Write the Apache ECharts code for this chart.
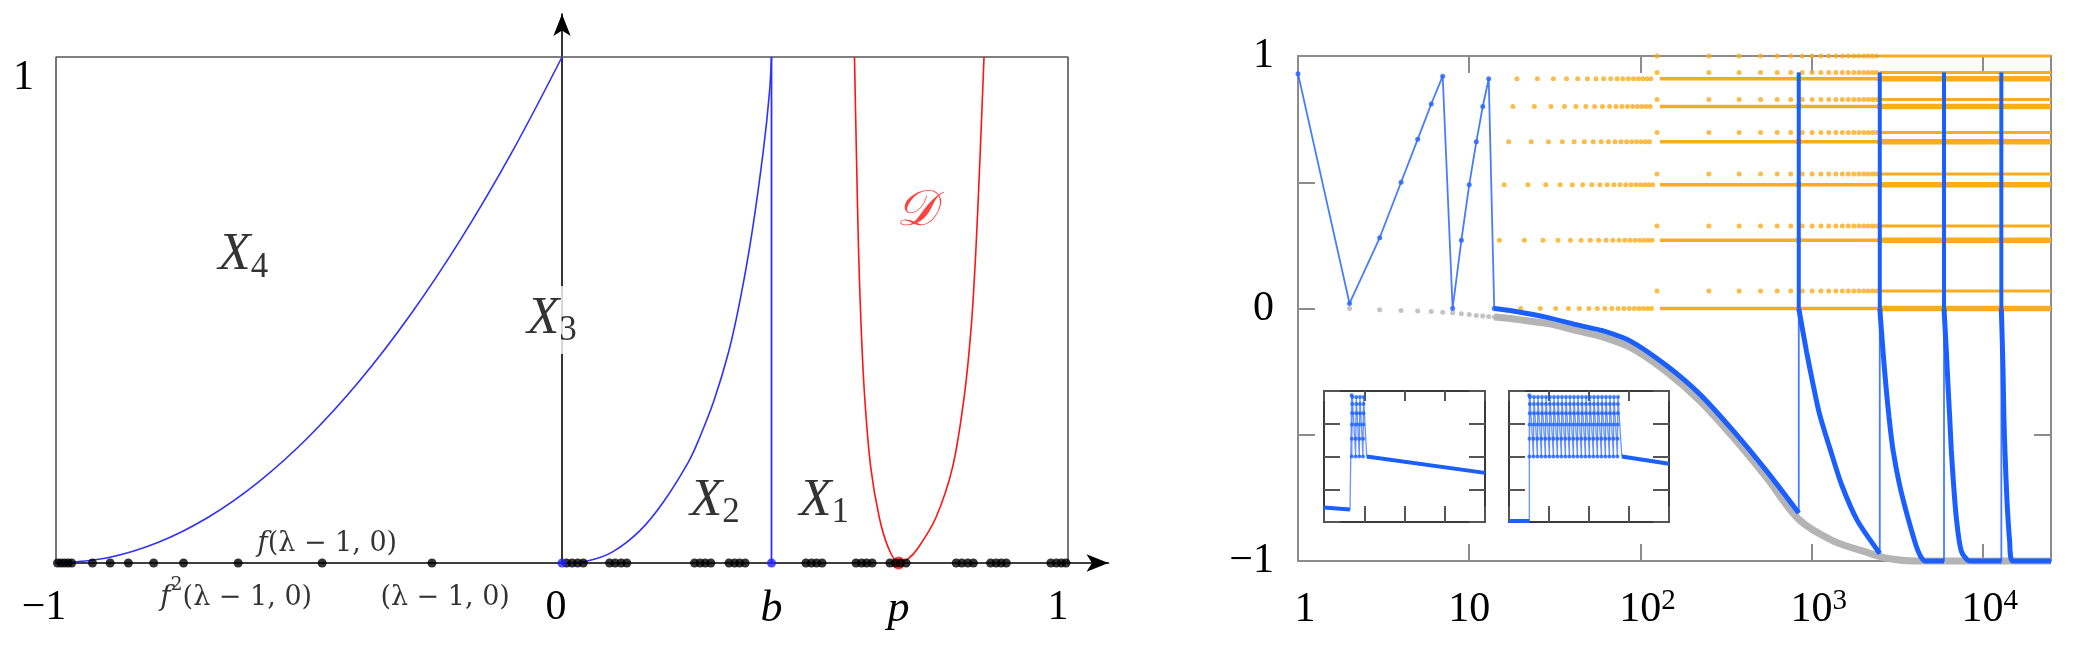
<!DOCTYPE html>
<html>
<head>
<meta charset="utf-8">
<script src="https://cdn.jsdelivr.net/npm/echarts@6.0.0/dist/echarts.min.js"></script>
<style>html,body{margin:0;padding:0;background:#fff;}#chart{width:2078px;height:653px;}</style>
</head>
<body>
<div id="chart"></div>
<script>
// ================= LEFT PANEL DATA =================
const leftXTickValues = [-1, 0, 0.414, 0.665, 1];
const leftXTickLabels = ['−1', '0', 'b', 'p', '1'];
const leftYTickValues = [1];
const leftYTickLabels = ['1'];
const boxLeft = [[-1, 0], [-1, 1], [1, 1], [1, 0]];
const curveX4 = [[-1,0],[-0.9,0.01],[-0.8,0.04],[-0.7,0.09],[-0.6,0.16],[-0.5,0.25],[-0.4,0.36],[-0.3,0.49],[-0.2,0.64],[-0.1,0.81],[0,1]];
const curveX2 = [[0,0],[0.05,0.004],[0.1,0.022],[0.155,0.065],[0.2,0.12],[0.25,0.2],[0.27,0.243],[0.3,0.32],[0.33,0.42],[0.352,0.52],[0.375,0.65],[0.398,0.816],[0.41,0.93],[0.414,1]];
const lineB = [[0.414,0],[0.414,1]];
const curveD = [[0.578,1],[0.582,0.8],[0.586,0.62],[0.591,0.47],[0.598,0.33],[0.61,0.19],[0.627,0.09],[0.645,0.03],[0.665,0],[0.684,0.008],[0.704,0.03],[0.739,0.09],[0.772,0.19],[0.795,0.33],[0.809,0.47],[0.818,0.62],[0.826,0.8],[0.834,1]];
const orbitBlack = [-0.997,-0.990,-0.983,-0.976,-0.969,-0.928,-0.893,-0.857,-0.807,-0.748,-0.640,-0.474,-0.257,
  0.009,0.020,0.031,0.042, 0.094,0.105,0.117,0.128, 0.262,0.273,0.283,0.294, 0.330,0.341,0.351,0.362,
  0.482,0.493,0.503,0.514, 0.581,0.592,0.602,0.613, 0.648,0.659,0.669,0.680, 0.779,0.790,0.802,0.813,
  0.847,0.858,0.868,0.878, 0.966,0.977,0.987,0.996];
const orbitBlue = [0, 0.414];
const orbitRed = [0.665];
const regionSubs = ['4', '3', '2', '1'];
const regionPos = [[-0.63,0.605],[-0.02,0.48],[0.302,0.12],[0.518,0.12]];
const setDName = '𝒟';
const setDPos = [0.70, 0.694];
const orbitTexts = ['{i|f}{r|(λ − 1, 0)}', '{i|f}{sup|2}{r|(λ − 1, 0)}', '{r|(λ − 1, 0)}'];
const orbitTextPos = [[-0.464,0.046],[-0.644,-0.06],[-0.231,-0.06]];

// ================= RIGHT PANEL DATA =================
const rightYTickValues = [-1, 0, 1];
const rightYTickLabels = ['−1', '0', '1'];
const blueSaw = [[1,0.93],[2,0.02],[3,0.28],[4,0.50],[5,0.67],[6,0.81],[7,0.92],[8,0.0],[9,0.27],[10,0.49],[11,0.66],[12,0.80],[13,0.91],[14,0.0]];
const blueCurve1 = [[14,0],[18,-0.01],[28,-0.034],[44,-0.067],[60,-0.088],[88,-0.13],[142,-0.226],[222,-0.339],[348,-0.484],[545,-0.643],[841,-0.81]];
const blueCurve2 = [[841,0],[933,-0.17],[1019,-0.30],[1114,-0.42],[1300,-0.57],[1500,-0.70],[1850,-0.84],[2500,-0.97]];
const blueCurve3 = [[2500,0],[2612,-0.17],[2710,-0.30],[2830,-0.43],[2986,-0.56],[3266,-0.70],[3655,-0.83],[4180,-0.96],[4600,-1.0],[5930,-1.0]];
const blueCurve4 = [[5930,0],[6120,-0.17],[6253,-0.30],[6400,-0.43],[6540,-0.56],[6750,-0.70],[7000,-0.83],[7480,-0.96],[8380,-1.0],[12820,-1.0]];
const blueCurve5 = [[12820,0],[13100,-0.23],[13270,-0.43],[13450,-0.56],[13830,-0.76],[14330,-0.92],[14930,-1.0],[25000,-1.0]];
const blueCurves = [blueCurve1, blueCurve2, blueCurve3, blueCurve4, blueCurve5];
const jumpX = [841, 2500, 5930, 12820];
const barTop = 0.935;
const sawLevels = [0.27, 0.49, 0.66, 0.80, 0.91];
const greyDots = [[2,0],[3,-0.005],[4,-0.008],[5,-0.01],[6,-0.012],[7,-0.015],[8,-0.017],[9,-0.021],[10,-0.024],[11,-0.028],[12,-0.03],[13,-0.032],[14,-0.034]];
const greyCurve = [[14,-0.034],[20,-0.045],[30,-0.062],[44,-0.09],[60,-0.112],[88,-0.155],[142,-0.25],[222,-0.365],[348,-0.51],[545,-0.67],[841,-0.835],[1334,-0.92],[2090,-0.965],[2800,-0.99],[4000,-1.0],[25000,-1.0]];
const orangeLowLevels = [0.27, 0.49, 0.66, 0.80, 0.91, 0.0];
const orangeSparseX = [
  [15,21,27,33,39,45,51,57,63,69,75,81,87,93,99,105,111,117],
  [16,22,28,34,40,46,52,58,64,70,76,82,88,94,100,106,112,118],
  [17,23,29,35,41,47,53,59,65,71,77,83,89,95,101,107,113],
  [18,24,30,36,42,48,54,60,66,72,78,84,90,96,102,108,114],
  [19,25,31,37,43,49,55,61,67,73,79,85,91,97,103,109,115],
  [20,26,32,38,44,50,56,62,68,74,80,86,92,98,104,110,116]
];
const orangeUpLevels = [0.069, 0.327, 0.533, 0.697, 0.828, 0.935, 1.0];
const orangeHookX = [125,251,377,503,629,755,881,1007,1133,1259,1385,1511,1637,1763,1889,2015,2141,2267,2393];
const orangeBandX = [130, 2500, 25000];   // band start, thickening point, end

// ================= INSET DATA =================
const insetLevels = [2.0, 2.54, 2.98, 3.32, 3.6, 3.82];
const insetJumpTop = 3.87;
const inset1Bottom = [[0,0.44],[0.646,0.38]];
const inset1JumpX = 0.687;
const inset1TeethX = [0.69, 0.787, 0.878, 0.969];
const inset1Tail = [[1.06,2.0],[4,1.5]];
const inset2Bottom = [[0,0.03],[0.508,0.03]];
const inset2JumpX = 0.508;
const inset2TeethX = [0.51,0.61,0.71,0.81,0.91,1.01,1.11,1.21,1.31,1.41,1.51,1.61,1.71,1.81,1.91,2.01,2.11,2.21,2.31,2.41,2.51,2.61,2.71];
const inset2Tail = [[2.82,2.0],[4,1.78]];

// ================= STYLE =================
const SERIF = "'Liberation Serif','DejaVu Serif',serif";
const SERIF2 = "'DejaVu Serif','Liberation Serif',serif";
const BLUE_L = '#3030ff', RED = '#ff1414';
const BLUE_R = '#1c5fff', BLUE_THIN = 'rgba(40,100,255,0.85)';
const GREY = '#b4b4b4', ORANGE = '#f9ac1d';
const FRAME = '#8c8c8c', INSET_FRAME = '#3a3a3a';

function line(data, xi, yi, color, width, extra) {
  return Object.assign({type:'line', data:data, xAxisIndex:xi, yAxisIndex:yi, symbol:'none',
    lineStyle:{color:color, width:width}, itemStyle:{color:color}, silent:true, animation:false, clip:false}, extra || {});
}
function dots(data, xi, yi, color, size, extra) {
  return Object.assign({type:'scatter', data:data, xAxisIndex:xi, yAxisIndex:yi, symbol:'circle', symbolSize:size,
    itemStyle:{color:color}, silent:true, animation:false, clip:false}, extra || {});
}

const series = [];
// ---- left panel (x 0, y 0)
series.push(line(boxLeft, 0, 0, '#555', 1.6, {z:1}));
series.push(line(curveX4, 0, 0, BLUE_L, 1.6, {smooth:0.35}));
series.push(line(curveX2, 0, 0, BLUE_L, 1.6, {smooth:0.35}));
series.push(line(lineB, 0, 0, BLUE_L, 1.8));
series.push(line(curveD, 0, 0, RED, 1.6, {smooth:0.3}));
series.push(dots(orbitRed.map(v => [v, 0]), 0, 0, RED, 13, {z:3}));
series.push(dots(orbitBlack.map(v => [v, 0]), 0, 0, '#000', 9, {z:4}));
series.push(dots(orbitBlue.map(v => [v, 0]), 0, 0, '#2020ff', 9, {z:5}));
// region labels
const labelData = regionPos.map((p, i) => ({
  value: p,
  label: {formatter: '{x|X}{s|' + regionSubs[i] + '}', backgroundColor: i === 1 ? '#fff' : 'transparent', padding: i === 1 ? [6, 4] : 0}
}));
labelData.push({value: setDPos, label: {formatter: '{d|' + setDName + '}'}});
orbitTextPos.forEach((p, i) => labelData.push({value: p, label: {formatter: orbitTexts[i]}}));
series.push({
  type:'scatter', xAxisIndex:0, yAxisIndex:0, data: labelData, symbolSize: 1, clip:false, silent:true, z:6,
  itemStyle:{color:'rgba(0,0,0,0)'},
  label:{show:true, position:'inside', color:'#000',
    rich:{
      x:{fontFamily:SERIF, fontStyle:'italic', fontSize:53, lineHeight:56, verticalAlign:'top', color:'#000'},
      s:{fontFamily:SERIF, fontSize:35, lineHeight:44, verticalAlign:'bottom', color:'#000'},
      d:{fontFamily:SERIF, fontStyle:'italic', fontSize:50, color:RED},
      i:{fontFamily:SERIF2, fontStyle:'italic', fontSize:28, lineHeight:36, verticalAlign:'bottom', color:'#000'},
      sup:{fontFamily:SERIF2, fontSize:19, lineHeight:20, verticalAlign:'top', color:'#000'},
      r:{fontFamily:SERIF2, fontSize:27, lineHeight:36, verticalAlign:'bottom', color:'#000'}
    }}
});

// ---- right panel (x 1, y 2)
orangeSparseX.forEach((xs, r) => series.push(dots(xs.map(x => [x, orangeLowLevels[r]]), 1, 2, ORANGE, 5)));
orangeUpLevels.forEach(u => series.push(dots(orangeHookX.map(x => [x, u]), 1, 2, ORANGE, 5)));
orangeLowLevels.forEach(l => {
  series.push(line([[orangeBandX[0], l], [orangeBandX[1], l]], 1, 2, ORANGE, 3.5));
  series.push(line([[orangeBandX[1], l], [orangeBandX[2], l]], 1, 2, ORANGE, 5.5));
});
orangeUpLevels.forEach(u => series.push(line([[orangeBandX[1], u], [orangeBandX[2], u]], 1, 2, ORANGE, 3)));
series.push(dots(greyDots, 1, 2, GREY, 5));
series.push(line(greyCurve, 1, 2, GREY, 7, {smooth:0.3}));
// blue thin path through everything
const blueThin = blueSaw.concat(blueCurve1.slice(1));
jumpX.forEach((x, i) => {
  blueThin.push([x, barTop]);
  blueThin.push([x, 0]);
  blueCurves[i + 1].slice(1).forEach(p => blueThin.push(p));
});
series.push(line(blueThin, 1, 2, BLUE_THIN, 1.8));
series.push(dots(blueSaw, 1, 2, BLUE_R, 5));
blueCurves.forEach(c => series.push(line(c, 1, 2, BLUE_R, 5, {smooth:0.25})));
jumpX.forEach(x => series.push(line([[x, 0], [x, barTop]], 1, 2, BLUE_R, 4)));
const barDots = [];
jumpX.forEach(x => sawLevels.forEach(l => barDots.push([x, l])));
series.push(dots(barDots, 1, 2, BLUE_R, 6));

// ---- insets
function insetSeries(xi, yi, bottom, jumpXv, teeth, tail) {
  const thin = [bottom[bottom.length - 1], [jumpXv, insetJumpTop]];
  teeth.forEach(x => insetLevels.forEach((l, k) => thin.push([x + k * 0.003, l])));
  thin.push(tail[0]);
  const tdots = [[jumpXv, insetJumpTop]];
  teeth.forEach(x => insetLevels.forEach((l, k) => tdots.push([x + k * 0.003, l])));
  return [
    line(bottom, xi, yi, BLUE_R, 4, {z:7}),
    line(thin, xi, yi, 'rgba(40,100,255,0.7)', 1.3, {z:7}),
    dots(tdots, xi, yi, BLUE_R, 4, {z:8}),
    line(tail, xi, yi, BLUE_R, 4, {z:7})
  ];
}
insetSeries(3, 4, inset1Bottom, inset1JumpX, inset1TeethX, inset1Tail).forEach(s => series.push(s));
insetSeries(5, 6, inset2Bottom, inset2JumpX, inset2TeethX, inset2Tail).forEach(s => series.push(s));

// ================= AXES =================
const hidden = {show:false};
function insetX(gi, pos, len) {
  return {gridIndex:gi, type:'value', min:0, max:4, interval:1, position:pos, z:6,
    axisLine:{show:true, onZero:false, lineStyle:{color:INSET_FRAME, width:2}},
    axisTick:{show:true, inside:true, length:len, lineStyle:{color:'#555', width:2}},
    axisLabel:hidden, splitLine:hidden};
}
function insetY(gi, pos) {
  return {gridIndex:gi, type:'value', min:0, max:4, interval:1, position:pos, z:6,
    axisLine:{show:true, onZero:false, lineStyle:{color:INSET_FRAME, width:2}},
    axisTick:{show:true, inside:true, length:16, lineStyle:{color:'#555', width:2}},
    axisLabel:hidden, splitLine:hidden};
}
function mainLogX(pos, withLabels) {
  return {gridIndex:1, type:'log', logBase:10, min:1, max:25000, position:pos,
    axisLine:{show:true, onZero:false, lineStyle:{color:FRAME, width:2}},
    axisTick:{show:true, inside:true, length:17, lineStyle:{color:FRAME, width:2}},
    minorTick:hidden, splitLine:hidden, minorSplitLine:hidden,
    axisLabel: withLabels ? {
      show:true, margin:26, color:'#000', fontFamily:SERIF, fontSize:42, showMaxLabel:false,
      formatter: function (v) {
        const lg = Math.log10(v);
        const e = Math.round(lg);
        if (Math.abs(lg - e) > 0.01) return '';
        if (e === 0) return '{pl|}{n|1}';
        if (e === 1) return '{n|10}';
        return '{pl|}{n|10}{sup|' + e + '}';
      },
      rich:{
        n:{fontFamily:SERIF, fontSize:42, lineHeight:44, verticalAlign:'bottom', color:'#000'},
        sup:{fontFamily:SERIF, fontSize:29, lineHeight:30, verticalAlign:'top', color:'#000'},
        pl:{width:14}
      }
    } : hidden};
}
function mainY(pos, withLabels) {
  return {gridIndex:1, type:'value', min:-1, max:1, interval:0.5, position:pos,
    axisLine:{show:true, onZero:false, lineStyle:{color:FRAME, width:2}},
    axisTick:{show:true, inside:true, length:17, lineStyle:{color:FRAME, width:2}},
    splitLine:hidden,
    axisLabel: withLabels ? {
      show:true, margin:24, color:'#000', fontFamily:SERIF, fontSize:42,
      formatter: function (v) {
        const k = rightYTickValues.indexOf(Math.round(v * 100) / 100);
        return k >= 0 ? rightYTickLabels[k] : '';
      }
    } : hidden};
}

const option = {
  animation:false,
  backgroundColor:'#fff',
  grid:[
    {left:56, top:14, width:1052.5, height:549},
    {left:1298, top:56, width:753, height:505},
    {left:1324, top:391, width:161, height:131, show:true, backgroundColor:'#fff', borderWidth:0, z:5},
    {left:1509, top:391, width:160, height:131, show:true, backgroundColor:'#fff', borderWidth:0, z:5}
  ],
  xAxis:[
    {gridIndex:0, type:'value', min:-1, max:1.08,
      axisLine:{show:true, onZero:true, symbol:['none','arrow'], symbolSize:[13,22], lineStyle:{color:'#000', width:1.6}},
      axisTick:hidden, splitLine:hidden,
      axisLabel:{show:true, customValues:leftXTickValues, margin:24, color:'#000', fontFamily:SERIF, fontSize:42,
        formatter:function (v) {
          const k = leftXTickValues.indexOf(v);
          const t = leftXTickLabels[k];
          if (t === 'b' || t === 'p') return '{it|' + t + '}';
          if (t === '−1') return '{n|−1}{pr|}';
          if (t === '0') return '{n|0}{pz|}';
          if (t === '1') return '{n|1}{p1|}';
          return '{n|' + t + '}';
        },
        rich:{
          n:{fontFamily:SERIF, fontSize:42, color:'#000'},
          it:{fontFamily:SERIF, fontStyle:'italic', fontSize:44, color:'#000'},
          pr:{width:24}, pz:{width:12}, p1:{width:20}
        }}},
    mainLogX('bottom', true),
    mainLogX('top', false),
    insetX(2, 'bottom', 16), insetX(2, 'top', 10),
    insetX(3, 'bottom', 16), insetX(3, 'top', 10)
  ],
  yAxis:[
    {gridIndex:0, type:'value', min:0, max:1.085,
      axisLine:{show:true, onZero:true, symbol:['none','arrow'], symbolSize:[13,22], lineStyle:{color:'#000', width:1.6}},
      axisTick:hidden, splitLine:hidden, axisLabel:hidden},
    {gridIndex:0, type:'value', min:0, max:1.085, position:'left',
      axisLine:{show:false, onZero:false}, axisTick:hidden, splitLine:hidden,
      axisLabel:{show:true, customValues:leftYTickValues, formatter:function(){ return leftYTickLabels[0]; },
        margin:22, verticalAlign:'top', color:'#000', fontFamily:SERIF, fontSize:42}},
    mainY('left', true),
    mainY('right', false),
    insetY(2, 'left'), insetY(2, 'right'),
    insetY(3, 'left'), insetY(3, 'right')
  ],
  series: series
};

const chart = echarts.init(document.getElementById('chart'), null, {renderer:'canvas', width:2078, height:653});
chart.setOption(option);
</script>
</body>
</html>
